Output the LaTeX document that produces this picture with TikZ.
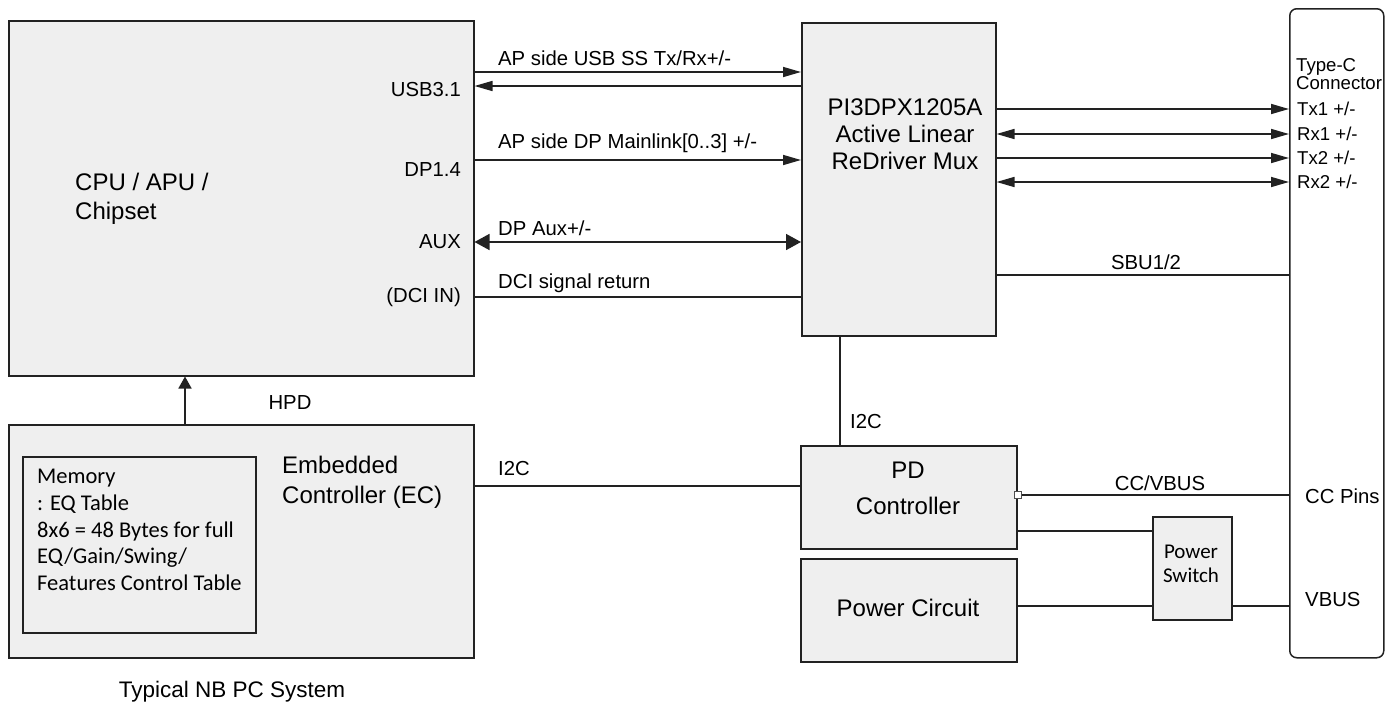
\documentclass[tikz,border=0pt]{standalone}
\usepackage{fontspec}
\setmainfont{Liberation Sans}
\newfontfamily\calfont{Carlito}
\usetikzlibrary{arrows.meta}
\definecolor{boxgray}{HTML}{EFEFEF}
\definecolor{edge}{HTML}{222222}
\begin{document}
\begin{tikzpicture}[x=1pt,y=-1pt,
  box/.style={draw=edge, line width=1.5pt, fill=boxgray, inner sep=0pt, anchor=north west},
  wire/.style={line width=1.6pt, draw=edge},
  tip/.style={-{Triangle[length=18pt,width=10pt]}},
  biglbl/.style={font=\fontsize{24}{28}\selectfont, inner sep=0pt},
  smalllbl/.style={font=\fontsize{20.3}{23}\selectfont, inner sep=0pt},
  tclbl/.style={font=\fontsize{18.6}{18}\selectfont, inner sep=0pt},
  callbl/.style={font=\calfont\fontsize{22.5}{26.7}\selectfont, inner sep=0pt}]
\useasboundingbox (0,0) rectangle (1394,707);

% boxes
\node[box, minimum width=465pt, minimum height=355pt] (cpu) at (8,20) {};
\node[box, minimum width=465pt, minimum height=233pt] (ec) at (8,424) {};
\node[box, minimum width=233pt, minimum height=176pt] (mem) at (22,456) {};
\node[box, minimum width=194pt, minimum height=313pt] (rd) at (801,22) {};
\node[box, minimum width=216pt, minimum height=103pt] (pd) at (800,445) {};
\node[box, minimum width=216pt, minimum height=103pt] (pc) at (800,558) {};
\node[box, minimum width=79pt, minimum height=103pt] (ps) at (1152,516) {};
\node[box, fill=white, rounded corners=7pt, minimum width=94pt, minimum height=649pt] (tc) at (1289,8) {};

% box texts
\node[biglbl, align=left, anchor=west, font=\fontsize{24}{29}\selectfont] (cputxt) at (75,199) {CPU / APU /\\Chipset};
\node[biglbl, align=center, font=\fontsize{24}{27}\selectfont] (rdtxt) at (905,134) {PI3DPX1205A\\Active Linear\\ReDriver Mux};
\node[biglbl, align=left, anchor=west, font=\fontsize{24}{30}\selectfont] (ectxt) at (282,482) {Embedded\\Controller (EC)};
\node[callbl, align=left, anchor=west] (memtxt) at (37,530) {Memory\\: EQ Table\\8x6 = 48 Bytes for full\\EQ/Gain/Swing/\\Features Control Table};
\node[biglbl, align=center, font=\fontsize{24}{36}\selectfont] (pdtxt) at (908,488) {PD\\Controller};
\node[biglbl] (pctxt) at (908,608) {Power Circuit};
\node[callbl, align=center, font=\calfont\fontsize{21}{24}\selectfont] (pstxt) at (1191,564) {Power\\Switch};
\node[tclbl, align=left, anchor=west] (tctxt) at (1296,74) {Type-C\\Connector};

% CPU port labels
\node[smalllbl, anchor=east] (usbl) at (461,90) {USB3.1};
\node[smalllbl, anchor=east] (dpl) at (461,170) {DP1.4};
\node[smalllbl, anchor=east] (auxl) at (461,242) {AUX};
\node[smalllbl, anchor=east] (dcil) at (461,297) {(DCI IN)};

% CPU <-> ReDriver
\draw[wire, tip] (cpu.east |- 0,72) -- (rd.west |- 0,72);
\draw[wire, tip] (rd.west |- 0,86) -- (cpu.east |- 0,86);
\node[smalllbl, anchor=west] (usbw) at (498,58) {AP side USB SS Tx/Rx+/-};
\draw[wire, tip] (cpu.east |- 0,160) -- (rd.west |- 0,160);
\node[smalllbl, anchor=west] (dpw) at (498,143) {AP side DP Mainlink[0..3] +/-};
\draw[wire, {Triangle[length=15pt,width=16pt]}-{Triangle[length=15pt,width=16pt]}] (cpu.east |- 0,242) -- (rd.west |- 0,242);
\node[smalllbl, anchor=west] (auxw) at (498,228) {DP Aux+/-};
\draw[wire] (rd.west |- 0,297) -- (cpu.east |- 0,297);
\node[smalllbl, anchor=west] (dciw) at (498,283) {DCI signal return};

% ReDriver -> Type-C
\draw[wire, tip] (rd.east |- 0,109) -- (tc.west |- 0,109);
\draw[wire, {Triangle[length=18pt,width=10pt]}-{Triangle[length=18pt,width=10pt]}] (rd.east |- 0,134) -- (tc.west |- 0,134);
\draw[wire, tip] (rd.east |- 0,158) -- (tc.west |- 0,158);
\draw[wire, {Triangle[length=18pt,width=10pt]}-{Triangle[length=18pt,width=10pt]}] (rd.east |- 0,182) -- (tc.west |- 0,182);
\node[tclbl, anchor=west] (tx1) at (1297,109) {Tx1 +/-};
\node[tclbl, anchor=west] (rx1) at (1297,134) {Rx1 +/-};
\node[tclbl, anchor=west] (tx2) at (1297,158) {Tx2 +/-};
\node[tclbl, anchor=west] (rx2) at (1297,182) {Rx2 +/-};
\draw[wire] (rd.east |- 0,275) -- (tc.west |- 0,275);
\node[smalllbl] (sbu) at (1146,262) {SBU1/2};

% I2C ReDriver - PD
\draw[wire] (rd.south -| 840,0) -- (pd.north -| 840,0);
\node[smalllbl, anchor=west] (i2cv) at (850,422) {I2C};

% EC - PD
\draw[wire] (ec.east |- 0,486) -- (pd.west |- 0,486);
\node[smalllbl, anchor=west] (i2ch) at (498,469) {I2C};

% HPD
\draw[wire, -{Triangle[length=12pt,width=13pt]}] (ec.north -| 185,0) -- (cpu.south -| 185,0);
\node[smalllbl] (hpd) at (290,403) {HPD};

% PD - connector
\node[draw=edge!80, fill=white, line width=1pt, minimum size=7pt, inner sep=0pt] (sq) at (pd.east |- 0,495) {};
\draw[wire] (sq) -- (tc.west |- 0,495);
\node[smalllbl] (ccv) at (1160,483) {CC/VBUS};
\node[smalllbl, anchor=west] (ccp) at (1305,496) {CC Pins};
\draw[wire] (pd.east |- 0,531) -- (ps.west |- 0,531);
\draw[wire] (pc.east |- 0,606) -- (ps.west |- 0,606);
\draw[wire] (ps.east |- 0,606) -- (tc.west |- 0,606);
\node[smalllbl, anchor=west] (vbus) at (1305,600) {VBUS};

\node[smalllbl, font=\fontsize{22.5}{26}\selectfont] (nb) at (232,692) {Typical NB PC System};
\end{tikzpicture}
\end{document}
